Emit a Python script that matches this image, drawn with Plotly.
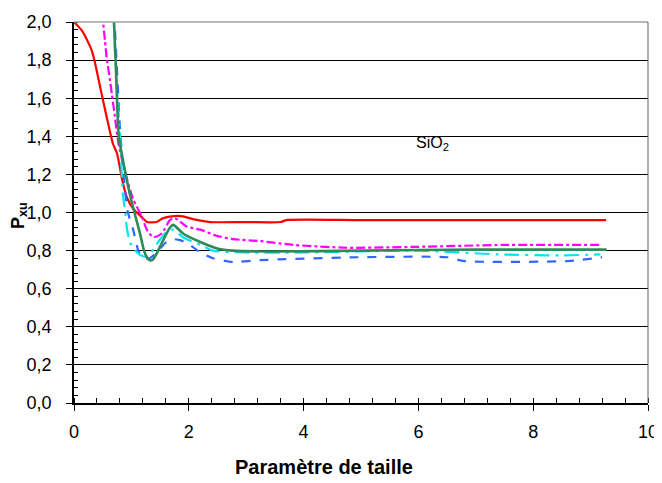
import plotly.graph_objects as go

# ---- data ----
red_x = [0, 0.15, 0.31, 0.37, 0.49, 0.63, 0.68, 0.75, 0.84, 0.92, 1.03, 1.2, 1.27, 1.44, 1.55, 1.7, 1.9, 2.07, 2.37, 3.0, 3.6, 3.7, 5.0, 7.0, 9.27]
red_y = [2.0, 1.95, 1.85, 1.78, 1.61, 1.42, 1.36, 1.31, 1.17, 1.08, 1.02, 0.97, 0.95, 0.95, 0.97, 0.98, 0.98, 0.965, 0.95, 0.95, 0.95, 0.96, 0.96, 0.96, 0.96]

mag_x = [0.49, 0.54, 0.57, 0.63, 0.66, 0.71, 0.77, 0.9, 1.03, 1.18, 1.27, 1.38, 1.53, 1.67, 1.76, 1.97, 2.2, 2.46, 2.77, 3.24, 3.82, 4.75, 6.0, 7.5, 9.17]
mag_y = [2.05, 1.9, 1.81, 1.69, 1.62, 1.51, 1.37, 1.2, 1.07, 0.98, 0.91, 0.87, 0.89, 0.96, 0.97, 0.925, 0.91, 0.88, 0.86, 0.85, 0.83, 0.815, 0.82, 0.83, 0.83]

cyan_x = [0.69, 0.72, 0.76, 0.8, 0.85, 0.89, 0.92, 0.98, 1.1, 1.2, 1.29, 1.41, 1.53, 1.62, 1.73, 1.9, 2.2, 2.42, 3.0, 4.0, 6.0, 7.4, 8.5, 9.17]
cyan_y = [2.05, 1.8, 1.6, 1.42, 1.1, 1.01, 0.92, 0.84, 0.79, 0.77, 0.77, 0.82, 0.87, 0.9, 0.91, 0.87, 0.83, 0.80, 0.79, 0.79, 0.80, 0.78, 0.775, 0.78]

green_x = [0.69, 0.73, 0.78, 0.85, 0.92, 1.01, 1.15, 1.22, 1.28, 1.33, 1.38, 1.45, 1.53, 1.67, 1.73, 1.9, 2.2, 2.51, 2.77, 3.5, 5.0, 7.0, 9.28]
green_y = [2.05, 1.76, 1.40, 1.28, 1.17, 1.05, 0.89, 0.80, 0.76, 0.748, 0.755, 0.79, 0.84, 0.92, 0.935, 0.89, 0.845, 0.81, 0.80, 0.795, 0.80, 0.805, 0.805]

blue_x = [0.70, 0.74, 0.8, 0.86, 0.94, 1.03, 1.12, 1.18, 1.25, 1.32, 1.44, 1.59, 1.7, 1.85, 2.02, 2.2, 2.42, 2.77, 3.24, 4.93, 6.5, 6.8, 8.6, 9.2]
blue_y = [2.05, 1.8, 1.45, 1.2, 1.0, 0.91, 0.80, 0.77, 0.758, 0.76, 0.79, 0.84, 0.86, 0.855, 0.83, 0.79, 0.76, 0.74, 0.75, 0.765, 0.765, 0.745, 0.745, 0.765]

series = [
    ("red", red_x, red_y, "#ff0000", "solid", 2.2),
    ("magenta", mag_x, mag_y, "#ff00ff", "dashdot", 2.2),
    ("blue", blue_x, blue_y, "#3366ff", "dash", 2.2),
    ("cyan", cyan_x, cyan_y, "#00e5ee", "longdashdot", 2.2),
    ("green", green_x, green_y, "#2e8b57", "solid", 2.6),
]

FONT = "Liberation Sans, Arial"

fig = go.Figure()
for name, xs, ys, col, dash, w in series:
    fig.add_trace(go.Scatter(x=xs, y=ys, mode="lines", name=name,
                             line=dict(color=col, dash=dash, width=w, shape="spline", smoothing=0.6),
                             cliponaxis=True))

fig.add_annotation(x=6.25, y=1.36, text="SiO<sub>2</sub>", showarrow=False,
                   font=dict(family=FONT, size=16, color="black"))
fig.add_annotation(xref="paper", yref="paper", x=0.436, y=-0.168, yanchor="middle",
                   text="<b>Paramètre de taille</b>", showarrow=False,
                   font=dict(family=FONT, size=20, color="black"))
fig.add_annotation(xref="paper", yref="paper", x=-0.096, y=0.493, xanchor="center", yanchor="middle",
                   text="<b>P<sub>xu</sub></b>", textangle=-90, showarrow=False,
                   font=dict(family=FONT, size=18, color="black"))

fig.update_layout(
    width=654, height=475,
    margin=dict(l=66, r=14, t=14, b=80),
    paper_bgcolor="white", plot_bgcolor="white",
    showlegend=False,
    separators=", ",
    font=dict(family=FONT, size=18, color="black"),
    xaxis=dict(range=[0, 10], dtick=2, tick0=0, showgrid=False, zeroline=False,
               automargin=False,
               showline=True, linecolor="black", linewidth=1.5,
               ticks="outside", ticklen=6, tickcolor="black",
               ticklabelstandoff=6,
               minor=dict(dtick=0.4, ticks="inside", ticklen=5, tickcolor="black"),
               tickfont=dict(size=18)),
    yaxis=dict(range=[0, 2.0], dtick=0.2, tick0=0, tickformat=".1f",
               automargin=False,
               showgrid=True, gridcolor="black", gridwidth=1, zeroline=False,
               showline=True, linecolor="black", linewidth=1.5,
               ticks="outside", ticklen=6, tickcolor="black",
               ticklabelstandoff=11,
               minor=dict(dtick=0.04, ticks="inside", ticklen=4, tickcolor="black", showgrid=False),
               tickfont=dict(size=18)),
    shapes=[
        dict(type="line", xref="paper", yref="paper", x0=0, x1=1, y0=1, y1=1,
             line=dict(color="#a0a0a0", width=1.5)),
        dict(type="line", xref="paper", yref="paper", x0=1, x1=1, y0=0, y1=1,
             line=dict(color="#606060", width=1)),
    ],
)

fig.write_html("out.html")
